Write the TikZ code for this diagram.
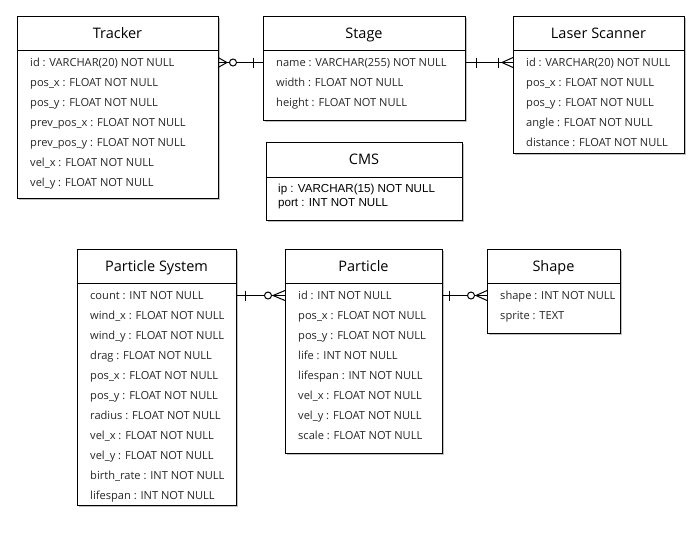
\documentclass[tikz,border=0pt]{standalone}
\usepackage{fontspec}
\setmainfont{Open Sans}
\newfontfamily\cmsfont{Liberation Sans}
\usetikzlibrary{calc,shadows}
\tikzset{
  ebox/.style={draw, line width=1pt, fill=white, rectangle, inner sep=0pt, outer sep=0pt, anchor=north west,
    drop shadow={shadow xshift=1.8pt, shadow yshift=-1.8pt, opacity=0.35, fill=black!70}},
  etitle/.style={inner sep=0pt, font=\fontsize{14.5}{17}\selectfont, text height=10.4pt, text depth=0pt},
  erow/.style={inner sep=0pt, anchor=west, font=\fontsize{11.1}{13}\selectfont, text height=7.9pt, text depth=0pt, text=black!85},
  cmsrow/.style={inner sep=0pt, anchor=west, font=\cmsfont\fontsize{11.6}{13}\selectfont, text height=8.3pt, text depth=0pt},
  conn/.style={line width=1pt, black},
}
\newcommand\erentity[7]{%
  \node[ebox, minimum width=#4pt, minimum height=#5pt] (#1) at (#2,#3) {};
  \draw[line width=1pt] ($(#1.north west)+(0,34)$) -- ($(#1.north east)+(0,34)$);
  \node[etitle] (#1-title) at ($(#1.north)+(0,17.5)$) {#6};
  \foreach \r [count=\i] in {#7} {\node[erow] (#1-\i) at ($(#1.north west)+(13,{46.5+20*\i-20})$) {\r};}
}
\begin{document}
\begin{tikzpicture}[x=1pt,y=-1pt]
\fill[white] (0,0) rectangle (696,533);
\useasboundingbox (0,0) rectangle (696,533);

\erentity{tracker}{17}{16}{201}{182}{Tracker}{id : VARCHAR(20) NOT NULL, pos\_x : FLOAT NOT NULL, pos\_y : FLOAT NOT NULL, prev\_pos\_x : FLOAT NOT NULL, prev\_pos\_y : FLOAT NOT NULL, vel\_x : FLOAT NOT NULL, vel\_y : FLOAT NOT NULL}
\erentity{stage}{263}{16}{202}{104}{Stage}{name : VARCHAR(255) NOT NULL, width : FLOAT NOT NULL, height : FLOAT NOT NULL}
\erentity{laser}{513}{16}{171}{137}{Laser Scanner}{id : VARCHAR(20) NOT NULL, pos\_x : FLOAT NOT NULL, pos\_y : FLOAT NOT NULL, angle : FLOAT NOT NULL, distance : FLOAT NOT NULL}
\erentity{ps}{77}{249}{159}{256}{Particle System}{count : INT NOT NULL, wind\_x : FLOAT NOT NULL, wind\_y : FLOAT NOT NULL, drag : FLOAT NOT NULL, pos\_x : FLOAT NOT NULL, pos\_y : FLOAT NOT NULL, radius : FLOAT NOT NULL, vel\_x : FLOAT NOT NULL, vel\_y : FLOAT NOT NULL, birth\_rate : INT NOT NULL, lifespan : INT NOT NULL}
\erentity{particle}{285}{249}{157}{204}{Particle}{id : INT NOT NULL, pos\_x : FLOAT NOT NULL, pos\_y : FLOAT NOT NULL, life : INT NOT NULL, lifespan : INT NOT NULL, vel\_x : FLOAT NOT NULL, vel\_y : FLOAT NOT NULL, scale : FLOAT NOT NULL}
\erentity{shape}{487}{249}{133}{84}{Shape}{shape : INT NOT NULL, sprite : TEXT}

% CMS
\node[ebox, minimum width=196pt, minimum height=78pt] (cms) at (266,142) {};
\draw[line width=1pt] ($(cms.north west)+(0,35)$) -- ($(cms.north east)+(0,35)$);
\node[etitle] (cms-title) at ($(cms.north)+(0,17.5)$) {CMS};
\node[cmsrow] (cms-1) at ($(cms.north west)+(12,46)$) {ip : VARCHAR(15) NOT NULL};
\node[cmsrow] (cms-2) at ($(cms.north west)+(12,60.5)$) {port : INT NOT NULL};

% Tracker -- Stage
\coordinate (c1a) at (tracker.east |- tracker-1);
\coordinate (c1b) at (stage.west |- stage-1);
\draw[conn] (c1a) -- (c1b);
\draw[conn] ($(c1a)+(0,-5)$) -- ($(c1a)+(9,0)$) -- ($(c1a)+(0,5)$);
\draw[conn, fill=white] ($(c1a)+(15,0)$) circle[radius=3.5pt];
\draw[conn] ($(c1b)+(-10,-5)$) -- ++(0,10);

% Stage -- Laser Scanner
\coordinate (c2a) at (stage.east |- stage-1);
\coordinate (c2b) at (laser.west |- laser-1);
\draw[conn] (c2a) -- (c2b);
\draw[conn] ($(c2a)+(11,-5)$) -- ++(0,10);
\draw[conn] ($(c2b)+(-15,-5)$) -- ++(0,10);
\draw[conn] ($(c2b)+(0,-5)$) -- ($(c2b)+(-11,0)$) -- ($(c2b)+(0,5)$);

% Particle System -- Particle
\coordinate (c3a) at (ps.east |- ps-1);
\coordinate (c3b) at (particle.west |- particle-1);
\draw[conn] (c3a) -- (c3b);
\draw[conn] ($(c3a)+(9,-5)$) -- ++(0,10);
\draw[conn] ($(c3b)+(0,-5)$) -- ($(c3b)+(-12,0)$) -- ($(c3b)+(0,5)$);
\draw[conn, fill=white] ($(c3b)+(-17,0)$) circle[radius=3.5pt];

% Particle -- Shape
\coordinate (c4a) at (particle.east |- particle-1);
\coordinate (c4b) at (shape.west |- shape-1);
\draw[conn] (c4a) -- (c4b);
\draw[conn] ($(c4a)+(7,-5)$) -- ++(0,10);
\draw[conn] ($(c4b)+(0,-5)$) -- ($(c4b)+(-11,0)$) -- ($(c4b)+(0,5)$);
\draw[conn, fill=white] ($(c4b)+(-16,0)$) circle[radius=3.5pt];
\end{tikzpicture}
\end{document}
